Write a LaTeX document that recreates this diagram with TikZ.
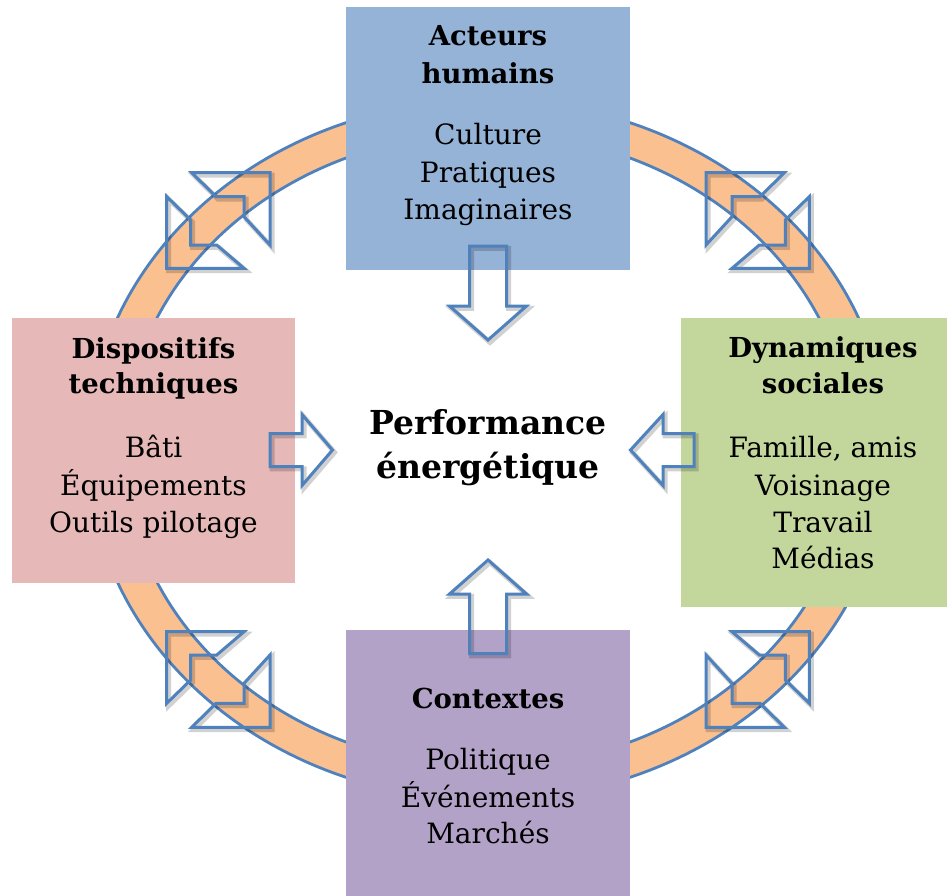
\documentclass[tikz,border=0pt]{standalone}
\usepackage{fontspec}
\setmainfont{DejaVu Serif}
\definecolor{topblue}{HTML}{95B3D7}
\definecolor{leftpink}{HTML}{E6B9B8}
\definecolor{rightgreen}{HTML}{C3D69B}
\definecolor{bottompurple}{HTML}{B3A2C7}
\definecolor{ringorange}{HTML}{FAC090}
\definecolor{lineblue}{HTML}{4F81BD}

\begin{document}
\begin{tikzpicture}[x=1pt,y=-1pt,
  panel/.style={rectangle, inner sep=0pt, draw=none},
  outline/.style={draw=lineblue, line width=3pt, line join=miter},
  softshadow/.style={draw=black, draw opacity=0.18, line width=5pt, line join=miter,
    transform canvas={shift={(2pt,-2.4pt)}}},
  ringline/.style={draw=lineblue, line width=2.8pt},
  title/.style={anchor=base, inner sep=0pt, font=\bfseries\fontsize{27.5}{33}\selectfont},
  item/.style={anchor=base, inner sep=0pt, font=\fontsize{28}{34}\selectfont},
  core/.style={anchor=base, inner sep=0pt, font=\bfseries\fontsize{33}{40}\selectfont}]
\useasboundingbox (0,0) rectangle (947,895);
\clip (0,0) rectangle (947,895);

% the cycle ring
\coordinate (hub) at (488,450);
\fill[ringorange, even odd rule] (hub) ellipse [x radius=400, y radius=350]
                                 (hub) ellipse [x radius=364, y radius=317];
\draw[ringline] (hub) ellipse [x radius=400, y radius=350];
\draw[ringline] (hub) ellipse [x radius=364, y radius=317];

% two-way heads on the diagonals of the ring
\foreach \nm/\sx/\sy in {nw/1/1, ne/-1/1, sw/1/-1, se/-1/-1} {
  \coordinate (\nm-a) at ({488+\sx*(191.7-488)},{450+\sy*(172.7-450)});
  \coordinate (\nm-b) at ({488+\sx*(270-488)},{450+\sy*(172.7-450)});
  \coordinate (\nm-c) at ({488+\sx*(270-488)},{450+\sy*(245-450)});
  \coordinate (\nm-d) at ({488+\sx*(244-488)},{450+\sy*(216.7-450)});
  \coordinate (\nm-e) at ({488+\sx*(244-488)},{450+\sy*(196.7-450)});
  \coordinate (\nm-f) at ({488+\sx*(216-488)},{450+\sy*(196.7-450)});
  \coordinate (\nm-g) at ({488+\sx*(166.7-488)},{450+\sy*(196.7-450)});
  \coordinate (\nm-h) at ({488+\sx*(166.7-488)},{450+\sy*(268.3-450)});
  \coordinate (\nm-i) at ({488+\sx*(244-488)},{450+\sy*(268.3-450)});
  \coordinate (\nm-j) at ({488+\sx*(216.7-488)},{450+\sy*(245-450)});
  \coordinate (\nm-k) at ({488+\sx*(190.7-488)},{450+\sy*(245-450)});
  \coordinate (\nm-l) at ({488+\sx*(190.7-488)},{450+\sy*(220-450)});
  \draw[softshadow] (\nm-a) -- (\nm-b) -- (\nm-c) -- (\nm-d) -- (\nm-e) -- (\nm-f) -- cycle;
  \draw[softshadow] (\nm-g) -- (\nm-h) -- (\nm-i) -- (\nm-j) -- (\nm-k) -- (\nm-l) -- cycle;
  \draw[outline] (\nm-a) -- (\nm-b) -- (\nm-c) -- (\nm-d) -- (\nm-e) -- (\nm-f) -- cycle;
  \draw[outline] (\nm-g) -- (\nm-h) -- (\nm-i) -- (\nm-j) -- (\nm-k) -- (\nm-l) -- cycle;
}

% the four coloured panels
\node[panel, fill=topblue, minimum width=284pt, minimum height=263pt] (acteurs) at (488,138.5) {};
\node[panel, fill=leftpink, minimum width=283pt, minimum height=265pt] (dispositifs) at (153.5,450.5) {};
\node[panel, fill=rightgreen, minimum width=284pt, minimum height=289pt] (dynamiques) at (823,462.5) {};
\node[panel, fill=bottompurple, minimum width=284pt, minimum height=266pt] (contextes) at (488,763) {};

% block arrows pointing to the centre
\foreach \mode in {softshadow, outline} {
  % from the top panel, pointing down
  \draw[\mode] (469.5,246) -- (506.5,246) -- (506.5,306) -- (526.5,306) -- (488,340)
    -- (449.5,306) -- (469.5,306) -- cycle;
  % from the bottom panel, pointing up
  \draw[\mode] (469.5,653.5) -- (506.5,653.5) -- (506.5,594) -- (526.5,594) -- (488,560)
    -- (449.5,594) -- (469.5,594) -- cycle;
  % from the left panel, pointing right
  \draw[\mode] (270,433.5) -- (270,466.5) -- (302,466.5) -- (302,485.5) -- (332.5,450)
    -- (302,414.5) -- (302,433.5) -- cycle;
  % from the right panel, pointing left
  \draw[\mode] (694,433.5) -- (694,466.5) -- (663,466.5) -- (663,485.5) -- (630.5,450)
    -- (663,414.5) -- (663,433.5) -- cycle;
}

% centre
\node[core] (perf1) at (488,434) {Performance};
\node[core] (perf2) at (488,478) {énergétique};

% top panel
\node[title] (t1) at (488,45) {Acteurs};
\node[title] (t2) at (488,83) {humains};
\node[item] (t3) at (488,144) {Culture};
\node[item] (t4) at (488,182) {Pratiques};
\node[item] (t5) at (488,219) {Imaginaires};

% left panel
\node[title] (l1) at (153.5,358) {Dispositifs};
\node[title] (l2) at (153.5,393) {techniques};
\node[item] (l3) at (153.5,457) {Bâti};
\node[item] (l4) at (153.5,495) {Équipements};
\node[item] (l5) at (153.5,532) {Outils pilotage};

% right panel
\node[title] (r1) at (823,357) {Dynamiques};
\node[title] (r2) at (823,393) {sociales};
\node[item] (r3) at (823,457) {Famille, amis};
\node[item] (r4) at (823,495) {Voisinage};
\node[item] (r5) at (823,532) {Travail};
\node[item] (r6) at (823,568) {Médias};

% bottom panel
\node[title] (b1) at (488,708) {Contextes};
\node[item] (b2) at (488,769) {Politique};
\node[item] (b3) at (488,807) {Événements};
\node[item] (b4) at (488,843) {Marchés};
\end{tikzpicture}
\end{document}
